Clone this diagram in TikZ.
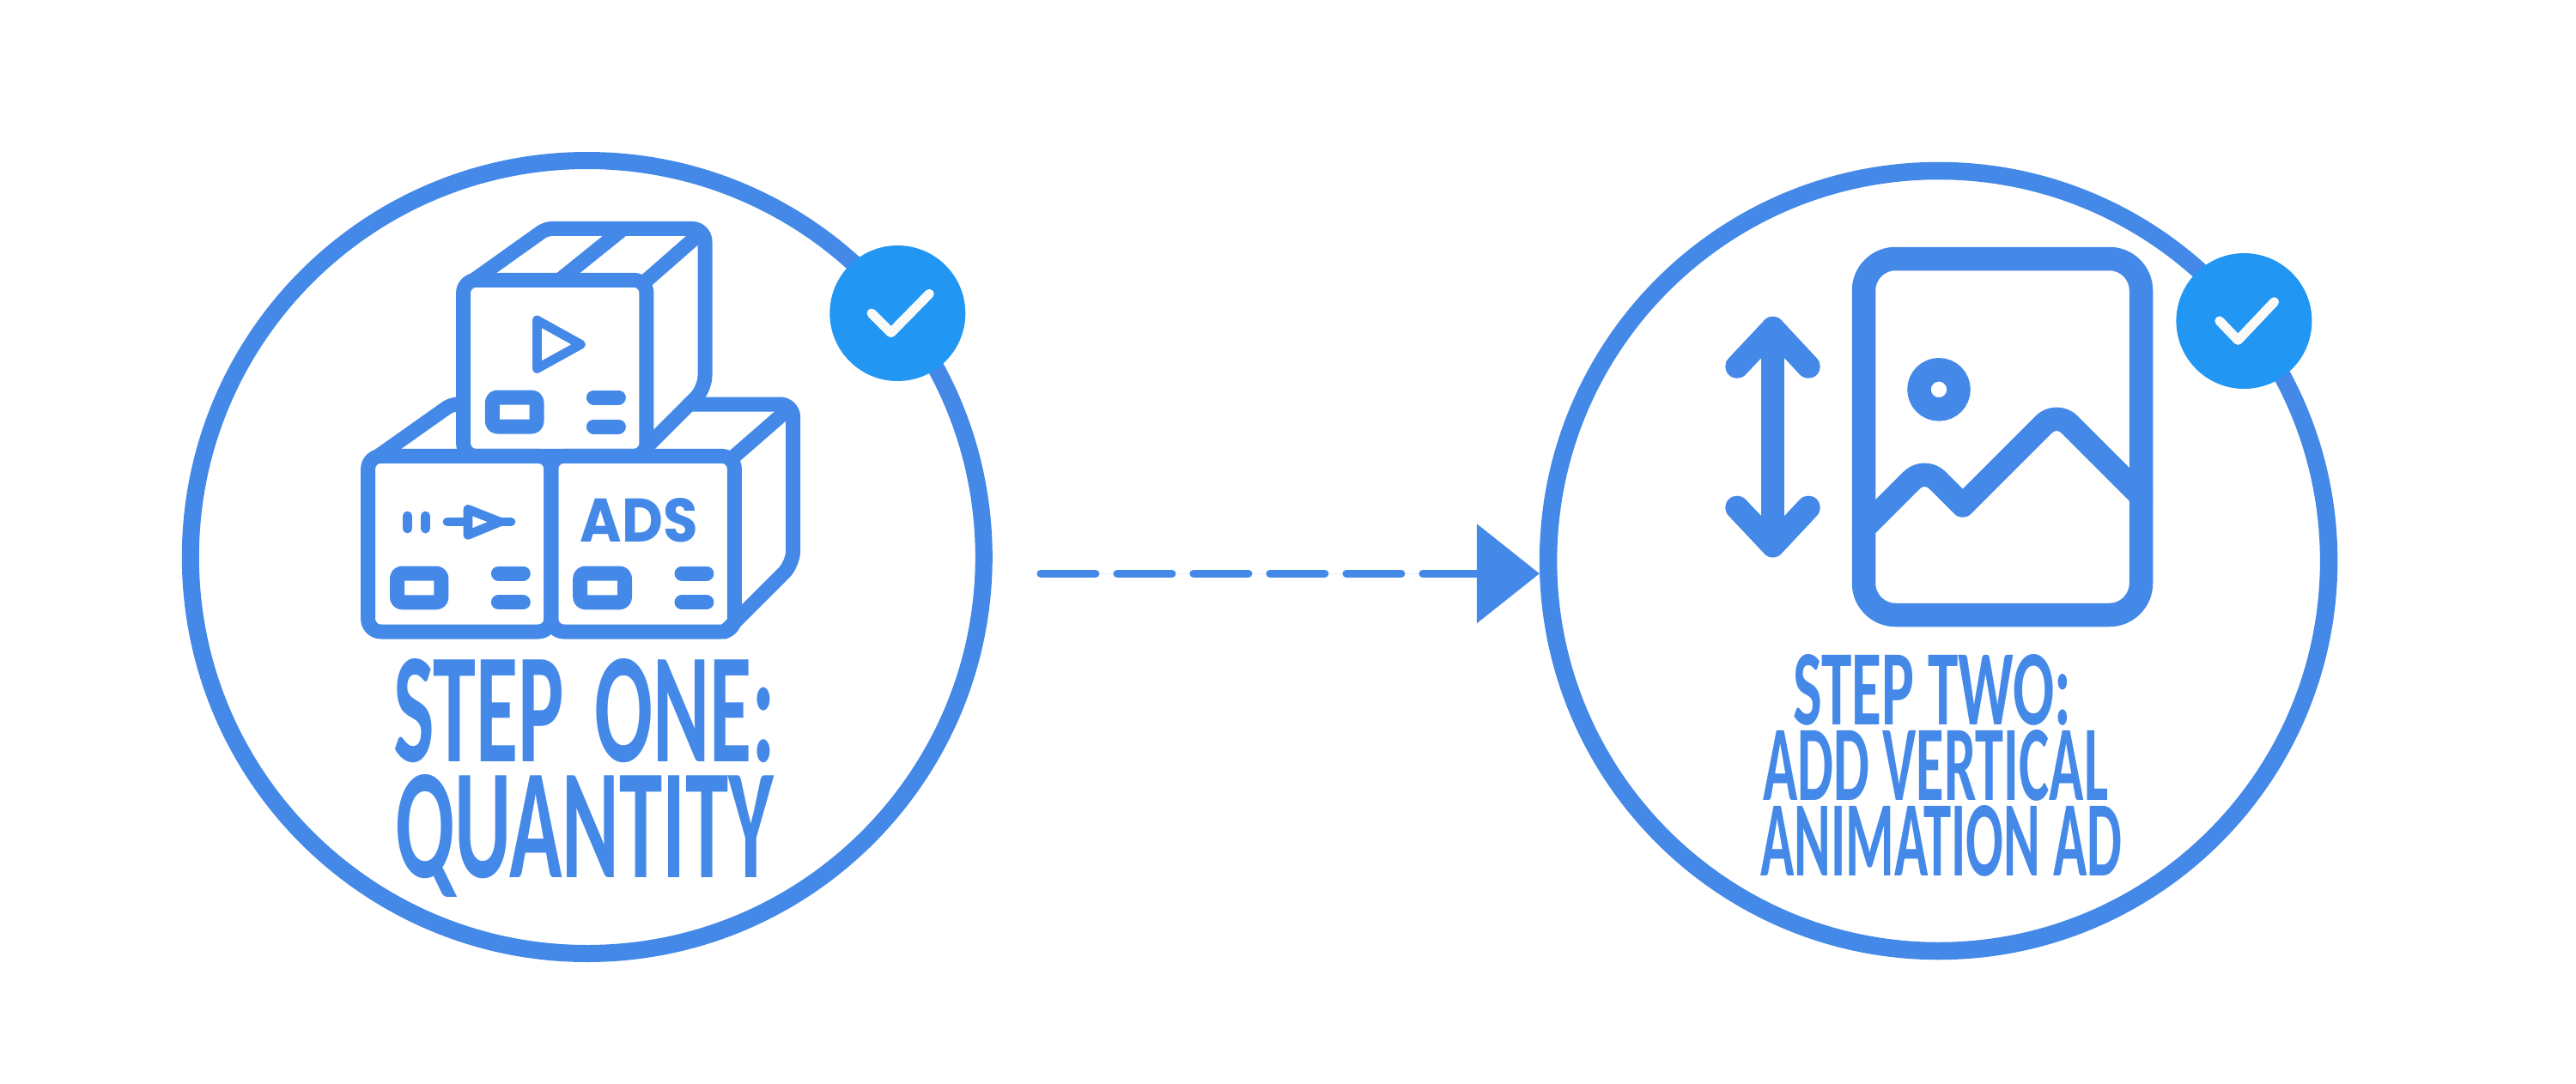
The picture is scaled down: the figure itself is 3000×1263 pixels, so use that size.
\documentclass[tikz,border=0pt]{standalone}
\usepackage{fontspec}
\usepackage{graphicx}
\usepackage{tikz}
\setmainfont{Carlito}
\newfontfamily\adsfont{Poppins}
\definecolor{blue500}{HTML}{4589E8}
\definecolor{badge500}{HTML}{2196F3}
\definecolor{gray50}{HTML}{FAFAFA}
\usetikzlibrary{arrows.meta}
\tikzstyle{ringnode}=[circle, draw=blue500, inner sep=0pt]
\tikzstyle{badgenode}=[circle, fill=badge500, inner sep=0pt, minimum size=158pt]
\tikzstyle{ticknode}=[draw=gray50, line width=11pt, line cap=round, line join=round]
\tikzstyle{boxline}=[draw=blue500, line width=17pt, line cap=round, line join=round, rounded corners=15pt]
\tikzstyle{markline}=[draw=blue500, line width=10.7pt, line cap=round, line join=round]
\tikzstyle{photoline}=[draw=blue500, line width=27.5pt, line cap=round, line join=round]
\tikzstyle{steptext}=[text=blue500, inner sep=0pt, anchor=base west, font=\bfseries]
\newcommand{\stepline}[3]{\resizebox{#1}{#2}{#3}}

\begin{document}
\begin{tikzpicture}[x=1pt, y=-1pt]
	\useasboundingbox (0,0) rectangle (3000,1263);
	\node[ringnode, line width=20pt, minimum size=924pt] (quantity) at (683.8,649) {};
	\node[ringnode, line width=20.5pt, minimum size=909pt] (animation) at (2257.6,653.5) {};

	\path[boxline] (552,326.3) [rounded corners=7pt]--(636,266.4) [rounded corners=15pt]--(821,266.4)--(821,452.8)--(752.9,521);
	\path[boxline] (440.6,531.4) [rounded corners=7pt]--(526,471)--(537,471);
	\path[boxline] (802.8,471)--(923.6,471)--(923.6,656.8)--(844.2,736);
	\path[boxline, line cap=butt] (652,326)--(726,266.4) (752.9,326.7)--(821,267) (855.4,531.4)--(923.6,472);
	\path[boxline] (539.6,326.3) rectangle (752.9,531.4);
	\path[boxline] (428.6,531.4) rectangle (641.8,736);
	\path[boxline] (641.8,531.4) rectangle (855.4,736);

	\path[boxline, rounded corners=6pt] (573.4,463) rectangle (625,497);
	\path[boxline, rounded corners=6pt] (462.5,668) rectangle (513.9,701.8);
	\path[boxline, rounded corners=6pt] (675.7,668) rectangle (727.5,701.8);
	\path[boxline] (691.4,463)--(720.4,463) (691.4,497)--(720.4,497);
	\path[boxline] (580.4,668)--(609.3,668) (580.4,701.8)--(609.3,701.8);
	\path[boxline] (794,668)--(822.9,668) (794,701.8)--(822.9,701.8);

	\path[markline] (625.4,373)--(676.4,401.3)--(625.4,429.5)--cycle;
	\path[markline] (474.6,601)--(474.6,616) (495.4,601)--(495.4,616);
	\path[markline] (521,608)--(545,608) (582,608)--(595,608);
	\path[markline] (545,593.4)--(582,608)--(545,623.3)--cycle;
	\node[text=blue500, inner sep=0pt, anchor=base west, font=\adsfont\bfseries] (adsword) at (675.7,631) {\stepline{137pt}{51pt}{ADS}};

	\path[photoline] (2170.5,615.4) [rounded corners=21pt]--(2241.3,544.6) [sharp corners]--(2285.7,589) [rounded corners=21pt]--(2395.1,479.6) [sharp corners]--(2493.5,578);
	\path[photoline, rounded corners=37pt] (2170.5,301.5) rectangle (2493.5,716.5);
	\path[photoline] (2064.7,382.6)--(2064.7,635.6);
	\path[photoline] (2023,427)--(2064.7,382.6)--(2106,427);
	\path[photoline] (2023,591.4)--(2064.7,635.6)--(2106,591.4);
	\node[circle, draw=blue500, line width=27.5pt, inner sep=0pt, minimum size=46pt] (sun) at (2258,453.8) {};

	\node[steptext] (stepone) at (458,887) {\stepline{445pt}{120pt}{STEP\hspace{.12em} ONE:}};
	\node[steptext] (quantityword) at (460,1022) {\stepline{441pt}{120pt}{QUANTITY}};
	\node[steptext] (steptwo) at (2088,844) {\stepline{324pt}{82pt}{STEP TWO:}};
	\node[steptext] (addvertical) at (2053,932) {\stepline{402pt}{82pt}{ADD VERTICAL}};
	\node[steptext] (animationad) at (2050,1020) {\stepline{421pt}{82pt}{ANIMATION AD}};

	\node[badgenode] (badgeone) at (1045.3,365) {};
	\node[badgenode] (badgetwo) at (2613.4,374) {};
	\path[ticknode] (1015,365)--(1037.7,387.7)--(1082.3,342.3);
	\path[ticknode] (2584.8,373.9)--(2606.3,396.4)--(2648.6,351.7);

	\coordinate (dashstart) at (1211.9,668.3);
	\draw[draw=blue500, fill=blue500, line width=9pt, line cap=round, dash pattern=on 64pt off 25pt, -{Triangle[length=73pt, width=114pt]}] (dashstart)--(dashstart -| animation.west);
\end{tikzpicture}
\end{document}
